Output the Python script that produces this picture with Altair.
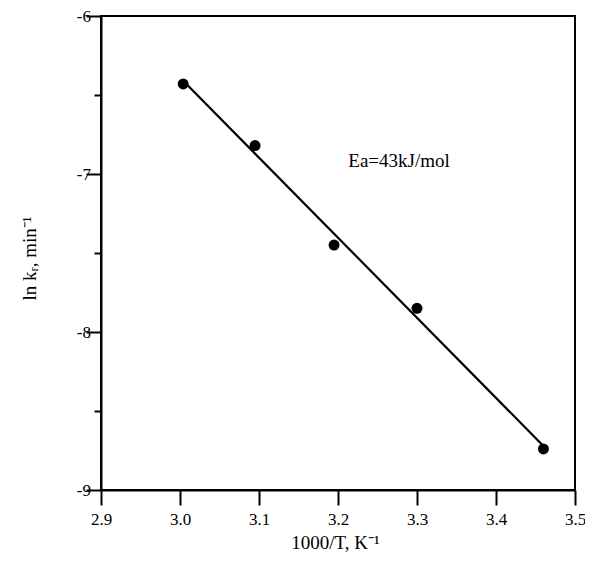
import altair as alt
import pandas as pd

# Data
inv_T = [3.004, 3.095, 3.195, 3.300, 3.460]
ln_k = [-6.43, -6.82, -7.45, -7.85, -8.74]

x_major = [2.9, 3.0, 3.1, 3.2, 3.3, 3.4, 3.5]
x_minor = [2.95, 3.05, 3.15, 3.25, 3.35, 3.45]
y_major = [-9, -8, -7, -6]
y_minor = [-8.5, -7.5, -6.5]

note_text = ["Ea=43kJ/mol"]
note_x = [3.213]
note_y = [-6.955]

df = pd.DataFrame({"x": inv_T, "y": ln_k})
notes = pd.DataFrame({"x": note_x, "y": note_y, "t": note_text})

FONT = "Liberation Serif"
xs = alt.Scale(domain=[2.9, 3.5], nice=False, zero=False)
ys = alt.Scale(domain=[-9, -6], nice=False, zero=False)

x_is_major = "abs(datum.value*10 - round(datum.value*10)) < 0.001"
y_is_major = "abs(datum.value - round(datum.value)) < 0.001"

x_axis = alt.Axis(
    values=sorted(x_major + x_minor), orient="bottom", title="1000/T, K⁻¹",
    labelExpr=f"{x_is_major} ? format(datum.value, '.1f') : ''",
    tickSize={"condition": {"test": x_is_major, "value": 15}, "value": 7},
    tickColor="black", tickWidth=2, grid=False,
    domainColor="black", domainWidth=2,
    labelFont=FONT, labelFontSize=17, labelColor="black", labelPadding=6,
    labelFlush=False, labelOverlap=False,
    titleFont=FONT, titleFontSize=19, titleFontWeight="normal", titleColor="black",
    titleX=234, titleY=58, titleAlign="center", titleBaseline="alphabetic",
)
y_axis = alt.Axis(
    values=sorted(y_major + y_minor), orient="left", title="ln kᵣ, min⁻¹",
    labelExpr=f"{y_is_major} ? '' + datum.value : ''",
    tickSize={"condition": {"test": y_is_major, "value": 15}, "value": 7},
    tickColor="black", tickWidth=2, grid=False,
    domainColor="black", domainWidth=2,
    labelFont=FONT, labelFontSize=17, labelColor="black", labelPadding=-4.5,
    labelAlign="right", labelBaseline="middle",
    labelFlush=False, labelOverlap=False,
    titleFont=FONT, titleFontSize=19, titleFontWeight="normal", titleColor="black",
    titleX=-72, titleY=242, titleAlign="center", titleBaseline="middle",
)

line = alt.Chart(df).transform_regression("x", "y").mark_line(
    color="black", strokeWidth=2.2
).encode(
    x=alt.X("x:Q", scale=xs, axis=x_axis),
    y=alt.Y("y:Q", scale=ys, axis=y_axis),
)

points = alt.Chart(df).mark_circle(size=120, color="black", opacity=1).encode(
    x=alt.X("x:Q", scale=xs),
    y=alt.Y("y:Q", scale=ys),
)

label = alt.Chart(notes).mark_text(
    font=FONT, fontSize=19, color="black", align="left", baseline="alphabetic"
).encode(
    x=alt.X("x:Q", scale=xs),
    y=alt.Y("y:Q", scale=ys),
    text="t:N",
)

chart = alt.layer(line, points, label).properties(
    width=474, height=474,
    autosize=alt.AutoSizeParams(type="none"),
    padding={"left": 93, "top": 8, "right": 10, "bottom": 64},
).configure_view(stroke="black", strokeWidth=2)

chart.save("out.html", embed_options={"renderer": "svg", "actions": False})
